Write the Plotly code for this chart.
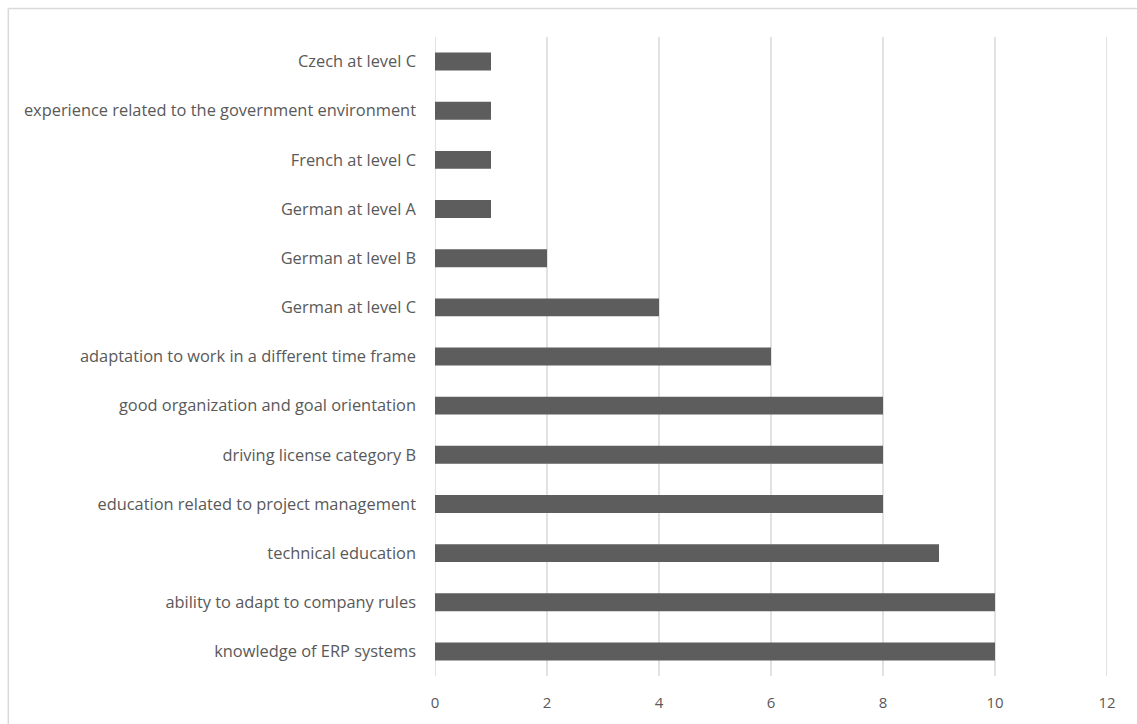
import plotly.graph_objects as go

# Skills listed from bottom row to top row
skills = [
    "knowledge of ERP systems",
    "ability to adapt to company rules",
    "technical education",
    "education related to project management",
    "driving license category B",
    "good organization and goal orientation",
    "adaptation to work in a different time frame",
    "German at level C",
    "German at level B",
    "German at level A",
    "French at level C",
    "experience related to the government environment",
    "Czech at level C",
]
counts = [10, 10, 9, 8, 8, 8, 6, 4, 2, 1, 1, 1, 1]
x_ticks = [0, 2, 4, 6, 8, 10, 12]

W, H = 1137, 724
L, R, T, B = 434.5, W - 1107, 37, H - 678

fig = go.Figure(
    go.Bar(
        x=counts,
        y=skills,
        orientation="h",
        width=0.365,
        marker=dict(color="#5d5d5d", line=dict(width=0)),
        hoverinfo="x+y",
    )
)

pw = W - L - R
ph = H - T - B

# vertical gridlines, including the ones on the plot edges
grid = [
    dict(
        type="line", xref="x", yref="paper", layer="below",
        x0=v, x1=v, y0=0, y1=1,
        line=dict(color="#d9d9d9", width=1.5),
    )
    for v in x_ticks
]

frame = [
    dict(
        type="line", xref="paper", yref="paper",
        x0=(7.5 - L) / pw, x1=(W + 5 - L) / pw,
        y0=1 + (T - 8.5) / ph, y1=1 + (T - 8.5) / ph,
        line=dict(color="#d9d9d9", width=1.5),
    ),
    dict(
        type="line", xref="paper", yref="paper",
        x0=(7.5 - L) / pw, x1=(7.5 - L) / pw,
        y0=1 + (T - 8.5) / ph, y1=-(B + 5) / ph,
        line=dict(color="#d9d9d9", width=1.5),
    ),
]

fig.update_layout(
    width=W,
    height=H,
    margin=dict(l=L, r=R, t=T, b=B, pad=0),
    paper_bgcolor="white",
    plot_bgcolor="white",
    showlegend=False,
    font=dict(family="'Open Sans', Lato, sans-serif", color="#595959", size=16),
    xaxis=dict(
        range=[0, 12],
        tickvals=x_ticks,
        showgrid=False,
        zeroline=False,
        showline=False,
        ticks="",
        ticklabelstandoff=16,
        tickfont=dict(size=15, color="#595959"),
        fixedrange=True,
    ),
    yaxis=dict(
        categoryorder="array",
        categoryarray=skills,
        range=[-0.5, len(skills) - 0.5],
        showgrid=False,
        zeroline=False,
        showline=False,
        ticks="",
        ticklabelstandoff=18,
        tickfont=dict(size=16.4, color="#595959"),
        fixedrange=True,
    ),
    shapes=grid + frame,
)

fig.write_html("out.html")
